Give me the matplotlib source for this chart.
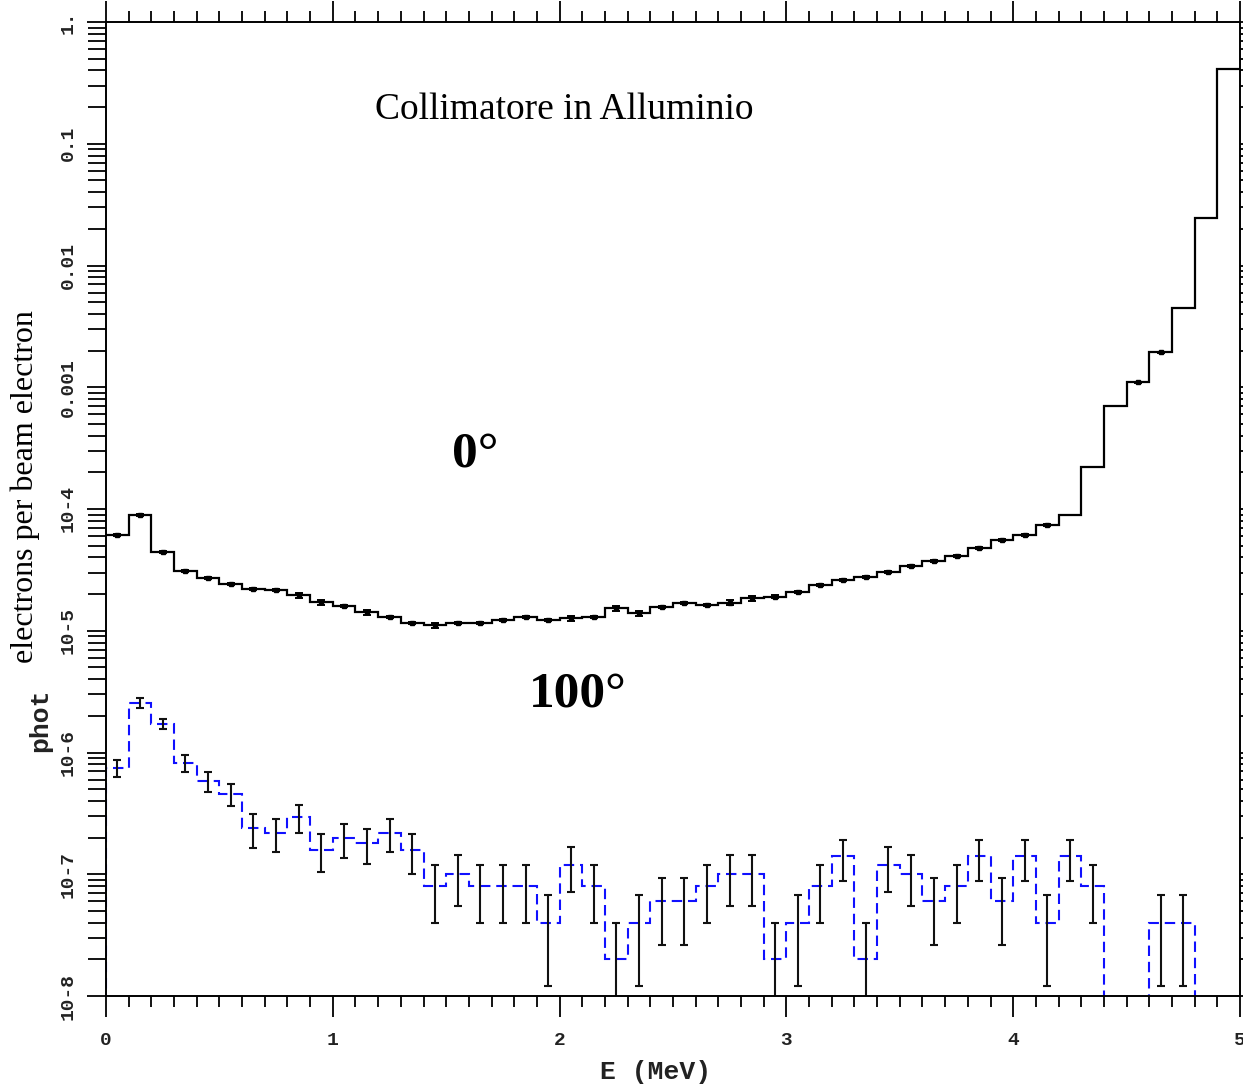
import numpy as np
import matplotlib
matplotlib.use("Agg")
import matplotlib.pyplot as plt
from matplotlib.ticker import FixedLocator, FixedFormatter, LogLocator, NullFormatter, MultipleLocator

# --- DATEN ---
E_EDGES = np.linspace(0.0, 5.0, 51)   # MeV, Bins zu 0.1

ZERO_DEG = [6.11e-5, 8.87e-5, 4.46e-5, 3.11e-5, 2.73e-5, 2.41e-5, 2.19e-5, 2.17e-5, 1.95e-5, 1.71e-5,
            1.61e-5, 1.42e-5, 1.30e-5, 1.15e-5, 1.11e-5, 1.15e-5, 1.15e-5, 1.23e-5, 1.30e-5, 1.23e-5,
            1.27e-5, 1.30e-5, 1.53e-5, 1.39e-5, 1.58e-5, 1.68e-5, 1.62e-5, 1.70e-5, 1.85e-5, 1.91e-5,
            2.07e-5, 2.36e-5, 2.60e-5, 2.78e-5, 3.02e-5, 3.42e-5, 3.76e-5, 4.13e-5, 4.75e-5, 5.56e-5,
            6.08e-5, 7.39e-5, 8.93e-5, 2.21e-4, 6.96e-4, 1.10e-3, 1.93e-3, 4.48e-3, 2.46e-2, 4.12e-1]
ZERO_DEG_RELERR = [0.02, 0.02, 0.02, 0.02, 0.02, 0.02, 0.02, 0.02, 0.05, 0.05,
                   0.02, 0.05, 0.02, 0.02, 0.05, 0.02, 0.02, 0.02, 0.02, 0.02,
                   0.05, 0.02, 0.05, 0.05, 0.02, 0.02, 0.02, 0.05, 0.05, 0.02,
                   0.02, 0.02, 0.02, 0.02, 0.02, 0.02, 0.02, 0.02, 0.02, 0.02,
                   0.02, 0.02, 0.00, 0.00, 0.00, 0.01, 0.01, 0.00, 0.00, 0.00]

HUNDRED_DEG = [7.5e-7, 2.57e-6, 1.73e-6, 8.26e-7, 5.83e-7, 4.56e-7, 2.38e-7, 2.17e-7, 2.94e-7, 1.59e-7,
               1.97e-7, 1.79e-7, 2.17e-7, 1.58e-7, 8.0e-8, 1.0e-7, 8.0e-8, 8.0e-8, 8.0e-8, 4.0e-8,
               1.2e-7, 8.0e-8, 2.0e-8, 4.0e-8, 6.0e-8, 6.0e-8, 8.0e-8, 1.0e-7, 1.0e-7, 2.0e-8,
               4.0e-8, 8.0e-8, 1.4e-7, 2.0e-8, 1.2e-7, 1.0e-7, 6.0e-8, 8.0e-8, 1.4e-7, 6.0e-8,
               1.4e-7, 4.0e-8, 1.4e-7, 8.0e-8, 0.0, 0.0, 4.0e-8, 4.0e-8, 0.0, 0.0]
HUNDRED_ERR = [1.2e-7, 2.3e-7, 1.7e-7, 1.3e-7, 1.1e-7, 9.5e-8, 7.3e-8, 6.6e-8, 7.5e-8, 5.5e-8,
               6.1e-8, 5.8e-8, 6.6e-8, 5.8e-8, 4.0e-8, 4.5e-8, 4.0e-8, 4.0e-8, 4.0e-8, 2.8e-8,
               4.9e-8, 4.0e-8, 2.0e-8, 2.8e-8, 3.4e-8, 3.4e-8, 4.0e-8, 4.5e-8, 4.5e-8, 2.0e-8,
               2.8e-8, 4.0e-8, 5.2e-8, 2.0e-8, 4.9e-8, 4.5e-8, 3.4e-8, 4.0e-8, 5.2e-8, 3.4e-8,
               5.2e-8, 2.8e-8, 5.2e-8, 4.0e-8, 0.0, 0.0, 2.8e-8, 2.8e-8, 0.0, 0.0]

Y_TICKS = [1e-8, 1e-7, 1e-6, 1e-5, 1e-4, 1e-3, 1e-2, 1e-1, 1.0]
Y_TICK_LABELS = ["10-8", "10-7", "10-6", "10-5", "10-4", "0.001", "0.01", "0.1", "1."]
X_TICKS = [0, 1, 2, 3, 4, 5]

# --- STYLE ---
MONO = "Liberation Mono"
SERIF = "Liberation Serif"
BLUE = "#1010ff"
TXT = "#222222"

fig = plt.figure(figsize=(12.43, 10.85), dpi=100)
ax = fig.add_axes([106 / 1243, 1 - 996 / 1085, 1134 / 1243, 974 / 1085])

centers = 0.5 * (E_EDGES[:-1] + E_EDGES[1:])

# 0 Grad: durchgezogene Treppe, Fehlerbalken nur wo sichtbar
zero = np.array(ZERO_DEG)
rel = np.array(ZERO_DEG_RELERR)
ax.stairs(zero, E_EDGES, color="black", lw=1.6, baseline=None)
m0 = rel > 0
ax.errorbar(centers[m0], zero[m0], yerr=zero[m0] * rel[m0], fmt="s", ms=3.5,
            color="black", ecolor="black", elinewidth=1.4, capsize=3, capthick=1.4)

# 100 Grad: gestrichelte blaue Treppe (leere Bins laufen nach unten raus)
hund = np.array(HUNDRED_DEG)
herr = np.array(HUNDRED_ERR)
hund_plot = np.where(hund > 0, hund, 1e-12)
ax.stairs(hund_plot, E_EDGES, color=BLUE, lw=1.5, baseline=1e-12, linestyle=(0, (5, 2.8)))
mask = hund > 0
low = np.minimum(herr[mask], hund[mask] * 0.999)
ax.errorbar(centers[mask], hund[mask], yerr=[low, herr[mask]], fmt="none",
            ecolor="#111111", elinewidth=1.5, capsize=3.2, capthick=1.5)

ax.set_yscale("log")
ax.set_xlim(0, 5)
ax.set_ylim(1e-8, 1.0)

for s in ax.spines.values():
    s.set_linewidth(1.4)

# Y-Achse
ax.yaxis.set_major_locator(FixedLocator(Y_TICKS))
ax.yaxis.set_major_formatter(FixedFormatter(Y_TICK_LABELS))
ax.yaxis.set_minor_locator(LogLocator(base=10, subs=np.arange(2, 10), numticks=20))
ax.yaxis.set_minor_formatter(NullFormatter())
ax.tick_params(axis="y", which="both", direction="out", left=True, right=True,
               width=1.3, colors="black", labelcolor=TXT, pad=7)
ax.tick_params(axis="y", which="major", length=14)
ax.tick_params(axis="y", which="minor", length=13)
for lab in ax.get_yticklabels():
    lab.set_rotation(90)
    lab.set_va("center")
    lab.set_fontfamily(MONO)
    lab.set_fontweight("bold")
    lab.set_fontsize(14)

# X-Achse
ax.xaxis.set_major_locator(FixedLocator(X_TICKS))
ax.xaxis.set_minor_locator(MultipleLocator(0.1))
ax.tick_params(axis="x", which="both", direction="out", top=True, bottom=True,
               width=1.3, labelcolor=TXT, pad=11)
ax.tick_params(axis="x", which="major", length=15)
ax.tick_params(axis="x", which="minor", length=8)
for lab in ax.get_xticklabels():
    lab.set_fontfamily(MONO)
    lab.set_fontweight("bold")
    lab.set_fontsize(14)

# Beschriftungen
fig.text(656 / 1243, 1 - 1072 / 1085, "E (MeV)", family=MONO, fontweight="bold",
         fontsize=19, color=TXT, ha="center", va="center")
fig.text(40 / 1243, 1 - 720 / 1085, "phot", family=MONO, fontweight="bold",
         fontsize=19, color=TXT, rotation=90, ha="center", va="center")
fig.text(25 / 1243, 1 - 487 / 1085, "electrons per beam electron", family=SERIF,
         fontsize=23, color="black", rotation=90, ha="center", va="center",
         bbox=dict(facecolor="white", edgecolor="none", pad=2))

ax.text(2.022, 0.189, "Collimatore in Alluminio", family=SERIF, fontsize=27,
        ha="center", va="center")
ax.text(1.627, 2.78e-4, "0°", family=SERIF, fontweight="bold", fontsize=37,
        ha="center", va="center")
ax.text(2.081, 2.97e-6, "100°", family=SERIF, fontweight="bold", fontsize=37,
        ha="center", va="center")

fig.savefig("out.png", dpi=100)
